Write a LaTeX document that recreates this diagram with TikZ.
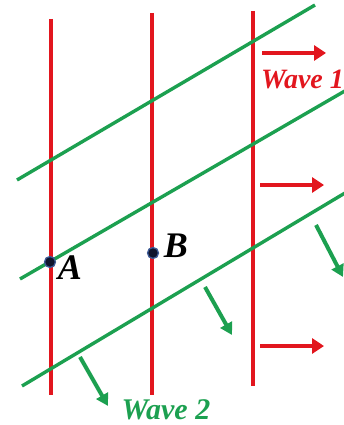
\documentclass[tikz,border=0pt]{standalone}
\usepackage{fontspec}
\setmainfont{Liberation Serif}
\usetikzlibrary{arrows.meta}
\definecolor{wred}{RGB}{226,22,30}
\definecolor{wgreen}{RGB}{28,160,80}
\definecolor{dotfill}{RGB}{15,20,45}
\definecolor{dotrim}{RGB}{60,90,150}
\tikzset{
  redline/.style={wred, line width=3.4pt},
  greenline/.style={wgreen, line width=3.4pt},
  redarrow/.style={wred, line width=4.4pt, -{Triangle[length=12pt,width=15pt]}},
  greenarrow/.style={wgreen, line width=4pt, -{Triangle[length=12pt,width=13pt]}},
  dotpt/.style={circle, fill=dotfill, draw=dotrim, line width=1.3pt, minimum size=11pt, inner sep=0pt},
  lbl/.style={font=\fontsize{36}{36}\selectfont\bfseries\itshape, inner sep=0pt},
  wavelbl/.style={font=\fontsize{30}{30}\selectfont\bfseries\itshape, inner sep=0pt}
}
\begin{document}
\begin{tikzpicture}[x=1pt,y=-1pt]
\useasboundingbox (0,0) rectangle (344,425);
\clip (0,0) rectangle (344,425);
% red wavefronts
\coordinate (r1t) at (51,19); \coordinate (r1b) at (51,395);
\coordinate (r2t) at (152,13); \coordinate (r2b) at (152,395);
\coordinate (r3t) at (253,11); \coordinate (r3b) at (253,386);
\draw[redline] (r1t) -- (r1b);
\draw[redline] (r2t) -- (r2b);
\draw[redline] (r3t) -- (r3b);
% green wavefronts
\coordinate (g1a) at (17,180); \coordinate (g1b) at (315,5);
\coordinate (g2a) at (20,279); \coordinate (g2b) at (350,88);
\coordinate (g3a) at (22,386); \coordinate (g3b) at (350,190);
\draw[greenline] (g1a) -- (g1b);
\draw[greenline] (g2a) -- (g2b);
\draw[greenline] (g3a) -- (g3b);
% red arrows
\coordinate (ra1s) at (262,53); \coordinate (ra1e) at (326,53);
\coordinate (ra2s) at (260,185); \coordinate (ra2e) at (324,185);
\coordinate (ra3s) at (260,346); \coordinate (ra3e) at (324,346);
\draw[redarrow] (ra1s) -- (ra1e);
\draw[redarrow] (ra2s) -- (ra2e);
\draw[redarrow] (ra3s) -- (ra3e);
% green arrows
\coordinate (ga1s) at (316,225); \coordinate (ga1e) at (343,277);
\coordinate (ga2s) at (205,287); \coordinate (ga2e) at (232,335);
\coordinate (ga3s) at (80,357); \coordinate (ga3e) at (108,406);
\draw[greenarrow] (ga1s) -- (ga1e);
\draw[greenarrow] (ga2s) -- (ga2e);
\draw[greenarrow] (ga3s) -- (ga3e);
% points
\node[dotpt] (A) at (50,262) {};
\node[dotpt] (B) at (153,253) {};
\node[lbl] (Alab) at (70,268) {A};
\node[lbl] (Blab) at (176,246) {B};
% labels
\node[wavelbl, wred, anchor=west, font=\fontsize{28}{28}\selectfont\bfseries\itshape] (w1) at (261,79) {Wave 1};
\node[wavelbl, wgreen] (w2) at (166,410) {Wave 2};
\end{tikzpicture}
\end{document}
